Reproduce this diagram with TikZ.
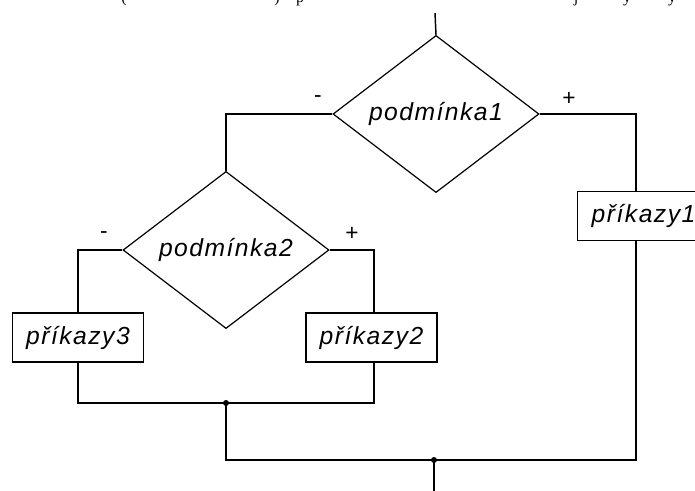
\documentclass[tikz,border=0pt]{standalone}
\usepackage{fontspec}
\setmainfont{Liberation Serif}
\newfontfamily\flowfont[LetterSpace=6]{Liberation Sans}
\newfontfamily\signfont{Liberation Sans}
\usetikzlibrary{shapes.geometric}
\newlength{\unitpx}
\setlength{\unitpx}{0.75pt}
\tikzset{
  flow/.style={line width=1.1pt, black},
  cond/.style={draw, line width=0.9pt, diamond, minimum width=206\unitpx, minimum height=137\unitpx,
    inner sep=0pt, font=\flowfont\itshape\fontsize{18.5}{20}\selectfont},
  cmd/.style={draw, line width=1.1pt, rectangle, minimum width=131\unitpx, minimum height=49\unitpx,
    inner sep=0pt, font=\flowfont\itshape\fontsize{18.5}{20}\selectfont},
  sign/.style={font=\signfont\fontsize{17}{19}\selectfont, inner sep=0pt},
  joint/.style={circle, fill=black, inner sep=0pt, minimum size=6\unitpx},
  clipped/.style={font=\fontsize{12}{14}\selectfont, inner sep=0pt, anchor=base},
}
\begin{document}
\begin{tikzpicture}[x=0.75pt, y=-0.75pt]
  \useasboundingbox (0,0) rectangle (695,491);
  % line of running text cut off at the upper edge
  \begin{scope}
    \clip (0,0) rectangle (695,491);
    \node[clipped] at (124,3) {(};
    \node[clipped] at (277,3) {)};
    \node[clipped] at (300,3) {p};
    \node[clipped] at (576,3) {j};
    \node[clipped] at (627,3) {y};
    \node[clipped] at (672,3) {y};
  \end{scope}

  \coordinate (start) at (435,13);
  \node[cond] (c1) at (436,114) {podmínka1};
  \node[cond] (c2) at (226,250) {podmínka2};
  \begin{scope}
    \clip (0,0) rectangle (695,491);
    \node[cmd, minimum width=122\unitpx, anchor=west, align=left, text width=118\unitpx] (p1) at (577,216)
      {\hspace*{12\unitpx}příkazy1};
  \end{scope}
  \node[cmd] (p3) at (78,337.5) {příkazy3};
  \node[cmd] (p2) at (371.5,337.5) {příkazy2};

  \coordinate (m2) at (226,403);
  \coordinate (m1) at (434,460);
  \coordinate (end) at (434,491);

  \node[sign] at (318,99) {-};
  \node[sign] at (569,99) {+};
  \node[sign] at (104,235) {-};
  \node[sign] at (352,234) {+};

  \draw[flow] (start) -- (c1.north);
  \draw[flow] (c1.west) -| (c2.north);
  \draw[flow] (c1.east) -| (p1.north -| 636,0);
  \draw[flow] (c2.west) -| (p3.north);
  \draw[flow] (c2.east) -| (374,0 |- p2.north);
  \draw[flow] (p3.south) |- (m2);
  \draw[flow] (374,0 |- p2.south) |- (m2);
  \draw[flow] (m2) |- (m1);
  \draw[flow] (636,0 |- p1.south) |- (m1);
  \draw[flow] (m1) -- (end);
  \node[joint] at (m2) {};
  \node[joint] at (m1) {};
\end{tikzpicture}
\end{document}
